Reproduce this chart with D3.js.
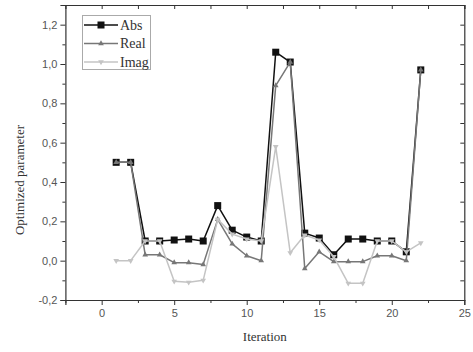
<!DOCTYPE html>
<html>
<head>
<meta charset="utf-8">
<script src="https://cdn.jsdelivr.net/npm/d3@7"></script>
<style>
  html, body { margin: 0; padding: 0; background: #fff; }
  svg { display: block; }
  .serif { font-family: "Liberation Serif", "Times New Roman", Times, serif; }
</style>
</head>
<body>
<svg id="chart" width="473" height="352"></svg>
<script>
// Optimized parameter per iteration, three components
const iterations = [1,2,3,4,5,6,7,8,9,10,11,12,13,14,15,16,17,18,19,20,21,22];
const absVals  = [0.50,0.50,0.10,0.10,0.105,0.11,0.10,0.28,0.155,0.12,0.10,1.06,1.01,0.14,0.115,0.03,0.11,0.11,0.10,0.10,0.045,0.97];
const realVals = [0.50,0.50,0.03,0.03,-0.01,-0.01,-0.02,0.21,0.085,0.025,0.00,0.89,1.01,-0.04,0.045,-0.005,-0.005,-0.005,0.025,0.025,0.00,0.97];
const imagVals = [0.00,0.00,0.10,0.10,-0.105,-0.11,-0.10,0.21,0.135,0.11,0.10,0.58,0.04,0.13,0.105,0.02,-0.115,-0.115,0.10,0.10,0.045,0.09];
const seriesNames = ["Abs", "Real", "Imag"];
const xTicks = [0, 5, 10, 15, 20, 25];
const yTicks = [-0.2, 0.0, 0.2, 0.4, 0.6, 0.8, 1.0, 1.2];

const svg = d3.select("#chart");
const plotLeft = 65.4, plotRight = 464.3, plotTop = 5, plotBottom = 300;

const x = d3.scaleLinear().domain([-2.5, 25]).range([plotLeft, plotRight]);
const y = d3.scaleLinear().domain([-0.2, 1.3]).range([plotBottom, plotTop]);

const axisColor = "#333";
const fmt = d => d3.format(".1f")(d).replace(".", ",").replace("−", "-");

// Minor ticks
const xMinor = d3.range(-2.5, 25.01, 2.5).filter(v => v % 5 !== 0);
const yMinor = d3.range(-0.1, 1.31, 0.2);

function styleAxis(g) {
  g.selectAll("path").attr("stroke", axisColor).attr("stroke-width", 1.2);
  g.selectAll("line").attr("stroke", axisColor).attr("stroke-width", 1);
  g.selectAll("text").attr("fill", "#555")
    .style("font-family", "'Liberation Sans', Arial, sans-serif").style("font-size", "11px");
}

// Bottom axis
svg.append("g").attr("transform", `translate(0,${plotBottom})`)
  .call(d3.axisBottom(x).tickValues(xTicks).tickSize(5).tickPadding(4).tickFormat(d3.format("d")))
  .call(styleAxis);
svg.append("g").attr("transform", `translate(0,${plotBottom})`)
  .call(d3.axisBottom(x).tickValues(xMinor).tickSize(3).tickFormat(""))
  .call(styleAxis).select("path").remove();

// Top axis, ticks pointing in
svg.append("g").attr("transform", `translate(0,${plotTop})`)
  .call(d3.axisTop(x).tickValues(d3.range(0, 25.01, 2.5)).tickSize(-4).tickFormat(""))
  .call(styleAxis);

// Left axis
svg.append("g").attr("transform", `translate(${plotLeft},0)`)
  .call(d3.axisLeft(y).tickValues(yTicks).tickSize(5).tickPadding(3).tickFormat(fmt))
  .call(styleAxis);
svg.append("g").attr("transform", `translate(${plotLeft},0)`)
  .call(d3.axisLeft(y).tickValues(yMinor).tickSize(3).tickFormat(""))
  .call(styleAxis).select("path").remove();

// Right axis, ticks pointing in
svg.append("g").attr("transform", `translate(${plotRight},0)`)
  .call(d3.axisRight(y).tickValues(d3.range(-0.2, 1.31, 0.1)).tickSize(-4).tickFormat(""))
  .call(styleAxis);

// Axis titles
svg.append("text").attr("class", "serif")
  .attr("x", (plotLeft + plotRight) / 2).attr("y", 341)
  .attr("text-anchor", "middle")
  .style("font-size", "13px").attr("fill", "#333")
  .text("Iteration");
svg.append("text").attr("class", "serif")
  .attr("transform", "translate(24,180) rotate(-90)")
  .attr("text-anchor", "middle")
  .style("font-size", "13px").attr("fill", "#333")
  .text("Optimized parameter");

// Series
const series = [
  { name: seriesNames[0], values: absVals,  color: "#111", marker: "square" },
  { name: seriesNames[1], values: realVals, color: "#777", marker: "up" },
  { name: seriesNames[2], values: imagVals, color: "#c4c4c4", marker: "down" }
];

const line = d3.line().x(d => x(d[0])).y(d => y(d[1]));

function drawMarker(g, kind, cx, cy, color) {
  if (kind === "square") {
    g.append("rect").attr("x", cx - 3.5).attr("y", cy - 3.5)
      .attr("width", 7).attr("height", 7).attr("fill", color);
  } else {
    const sym = d3.symbol().type(d3.symbolTriangle).size(14)();
    g.append("path").attr("d", sym)
      .attr("transform", `translate(${cx},${cy}) rotate(${kind === "down" ? 180 : 0})`)
      .attr("fill", color);
  }
}

const plot = svg.append("g");
series.forEach(s => {
  const pts = iterations.map((it, i) => [it, s.values[i]]);
  const g = plot.append("g");
  g.append("path").attr("d", line(pts))
    .attr("fill", "none").attr("stroke", s.color).attr("stroke-width", 1.5)
    .attr("stroke-linejoin", "round");
  pts.forEach(p => drawMarker(g, s.marker, x(p[0]), y(p[1]), s.color));
});

// Legend
const lg = svg.append("g");
lg.append("rect").attr("x", 82.5).attr("y", 15.5).attr("width", 68).attr("height", 54)
  .attr("fill", "#fff").attr("stroke", "#aaa").attr("stroke-width", 1);
series.forEach((s, i) => {
  const ly = 25 + i * 18.5;
  lg.append("line").attr("x1", 84).attr("x2", 118).attr("y1", ly).attr("y2", ly)
    .attr("stroke", s.color).attr("stroke-width", 1.5);
  drawMarker(lg, s.marker, 101, ly, s.color);
  lg.append("text").attr("class", "serif").attr("x", 120).attr("y", ly + 4.5)
    .style("font-size", "14px").attr("fill", "#333")
    .text(s.name);
});
</script>
</body>
</html>
